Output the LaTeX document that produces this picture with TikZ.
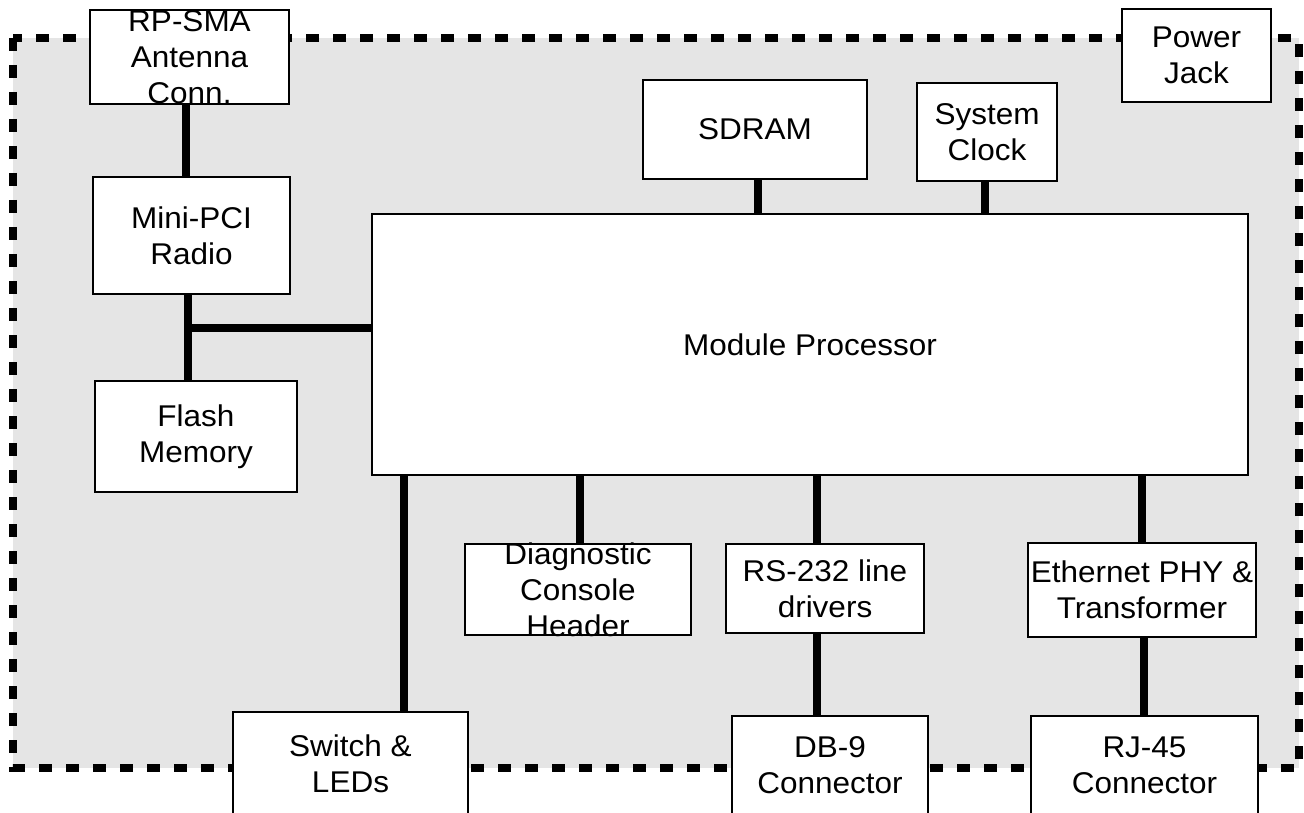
\documentclass[tikz,border=0pt]{standalone}
\usepackage{fontspec}
\setmainfont{Liberation Sans}[FakeStretch=1.05]
\definecolor{boardfill}{RGB}{229,229,229}
\tikzset{
  blk/.style={draw=black, line width=1.6pt, fill=white, inner sep=0pt, rectangle},
  wire/.style={line width=8pt, black},
  lbl/.style={align=center, font=\fontsize{30}{36}\selectfont, inner sep=0pt},
  boardedge/.style={line width=7.5pt, dash pattern=on 13pt off 14pt, fill=boardfill},
}
\begin{document}
\begin{tikzpicture}[x=1pt, y=-1pt]
  \clip (0,0) rectangle (1304,813);
  \useasboundingbox (0,0) rectangle (1304,813);

  % board outline
  \draw[boardedge] (13,38) rectangle (1299,768);

  % blocks
  \node[blk, minimum width=199pt, minimum height=94pt,
        label={[lbl]center:{RP-SMA\\Antenna\\Conn.}}] (rp) at (189.5,57) {};
  \node[blk, minimum width=149pt, minimum height=93pt,
        label={[lbl]center:{Power\\Jack}}] (pj) at (1196.5,55.5) {};
  \node[blk, minimum width=224pt, minimum height=99pt,
        label={[lbl]center:{SDRAM}}] (sdram) at (755,129.5) {};
  \node[blk, minimum width=140pt, minimum height=98pt,
        label={[lbl]center:{System\\Clock}}] (clk) at (987,132) {};
  \node[blk, minimum width=197pt, minimum height=117pt,
        label={[lbl]center:{Mini-PCI\\Radio}}] (mpci) at (191.5,235.5) {};
  \node[blk, minimum width=876pt, minimum height=261pt,
        label={[lbl]center:{Module Processor}}] (mod) at (810,344.5) {};
  \node[blk, minimum width=202pt, minimum height=111pt,
        label={[lbl]center:{Flash\\Memory}}] (flash) at (196,436.5) {};
  \node[blk, minimum width=226pt, minimum height=91pt,
        label={[lbl]center:{Diagnostic\\Console\\Header}}] (diag) at (578,589.5) {};
  \node[blk, minimum width=198pt, minimum height=89pt,
        label={[lbl]center:{RS-232 line\\drivers}}] (rs) at (825,588.5) {};
  \node[blk, minimum width=228pt, minimum height=94pt,
        label={[lbl]center:{Ethernet PHY \&\\Transformer}}] (eth) at (1142,590) {};
  \node[blk, minimum width=235pt, minimum height=104pt,
        label={[lbl]center:{Switch \&\\LEDs}}] (sw) at (350.5,764) {};
  \node[blk, minimum width=196pt, minimum height=98pt,
        label={[lbl]center:{DB-9\\Connector}}] (db9) at (830,765) {};
  \node[blk, minimum width=227pt, minimum height=98pt,
        label={[lbl]center:{RJ-45\\Connector}}] (rj) at (1144.5,765) {};

  % columns of the connecting buses
  \coordinate (ax) at (186,0);
  \coordinate (bx) at (188,0);
  \coordinate (sx) at (758,0);
  \coordinate (cx) at (985,0);
  \coordinate (wx) at (404,0);
  \coordinate (dx) at (580,0);
  \coordinate (rx) at (817,0);
  \coordinate (ex) at (1142,0);
  \coordinate (jx) at (1144,0);
  \coordinate (tee) at (188,328);

  % connections
  \draw[wire] (rp.south -| ax) -- (mpci.north -| ax);
  \draw[wire] (mpci.south -| bx) -- (flash.north -| bx);
  \draw[wire] (tee) -- (mod.west |- tee);
  \draw[wire] (sdram.south -| sx) -- (mod.north -| sx);
  \draw[wire] (clk.south -| cx) -- (mod.north -| cx);
  \draw[wire] (mod.south -| wx) -- (sw.north -| wx);
  \draw[wire] (mod.south -| dx) -- (diag.north -| dx);
  \draw[wire] (mod.south -| rx) -- (rs.north -| rx);
  \draw[wire] (mod.south -| ex) -- (eth.north -| ex);
  \draw[wire] (rs.south -| rx) -- (db9.north -| rx);
  \draw[wire] (eth.south -| jx) -- (rj.north -| jx);
\end{tikzpicture}
\end{document}
